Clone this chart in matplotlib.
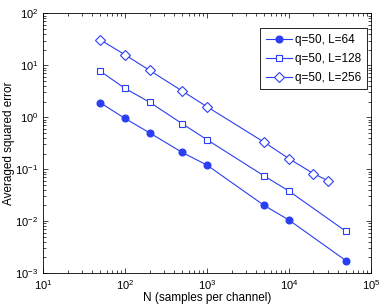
import numpy as np
import matplotlib
matplotlib.use("Agg")
import matplotlib.pyplot as plt
from matplotlib.ticker import LogLocator, NullFormatter

plt.rcParams["font.family"] = ["Liberation Sans", "DejaVu Sans"]
plt.rcParams["mathtext.fontset"] = "custom"
plt.rcParams["mathtext.rm"] = "Liberation Sans"

n_64 = [50, 100, 200, 500, 1000, 5000, 10000, 50000]
err_64 = [1.9, 0.95, 0.5, 0.21, 0.12, 0.02, 0.0105, 0.00172]

n_128 = [50, 100, 200, 500, 1000, 5000, 10000, 50000]
err_128 = [7.7, 3.6, 1.95, 0.75, 0.37, 0.074, 0.038, 0.0063]

n_256 = [50, 100, 200, 500, 1000, 5000, 10000, 20000, 30000]
err_256 = [31, 16, 8.0, 3.2, 1.6, 0.33, 0.16, 0.082, 0.06]

labels = ["q=50, L=64", "q=50, L=128", "q=50, L=256"]

blue = "#2b3ff2"
fig = plt.figure(figsize=(3.82, 3.05), dpi=100)
ax = fig.add_axes([0.1126, 0.105, 0.858, 0.851])

ax.loglog(n_64, err_64, "-o", color=blue, lw=0.8, ms=4.8, mfc=blue, mec=blue,
          label=labels[0])
ax.loglog(n_128, err_128, "-s", color=blue, lw=0.8, ms=5, mfc="white",
          mec=blue, mew=0.8, label=labels[1])
ax.loglog(n_256, err_256, "-D", color=blue, lw=0.8, ms=5, mfc="white",
          mec=blue, mew=0.8, label=labels[2])

ax.set_xlim(10, 1e5)
ax.set_ylim(1e-3, 1e2)
ax.xaxis.set_major_locator(LogLocator(base=10, numticks=10))
ax.yaxis.set_major_locator(LogLocator(base=10, numticks=10))
ax.xaxis.set_minor_locator(LogLocator(base=10, subs=np.arange(2, 10), numticks=10))
ax.yaxis.set_minor_locator(LogLocator(base=10, subs=np.arange(2, 10), numticks=10))
ax.xaxis.set_minor_formatter(NullFormatter())
ax.yaxis.set_minor_formatter(NullFormatter())
ax.tick_params(which="both", direction="in", top=True, right=True,
               labelsize=8, width=0.5)
ax.tick_params(which="major", length=3.5)
ax.tick_params(which="minor", length=2)
for s in ax.spines.values():
    s.set_linewidth(0.6)

ax.set_xlabel("N (samples per channel)", fontsize=8.5, labelpad=0)
ax.set_ylabel("Averaged squared error", fontsize=8.5, labelpad=0)

# legend box sits just inside the top-right corner, like the MATLAB original
leg = ax.legend(loc="upper right", bbox_to_anchor=(0.988, 0.942),
                borderaxespad=0, fontsize=8.5, fancybox=False,
                framealpha=1, edgecolor="black", handlelength=2.2,
                labelspacing=0.6, handletextpad=0.3, borderpad=0.45)
leg.get_frame().set_linewidth(0.6)

fig.savefig("out.png", dpi=100)
